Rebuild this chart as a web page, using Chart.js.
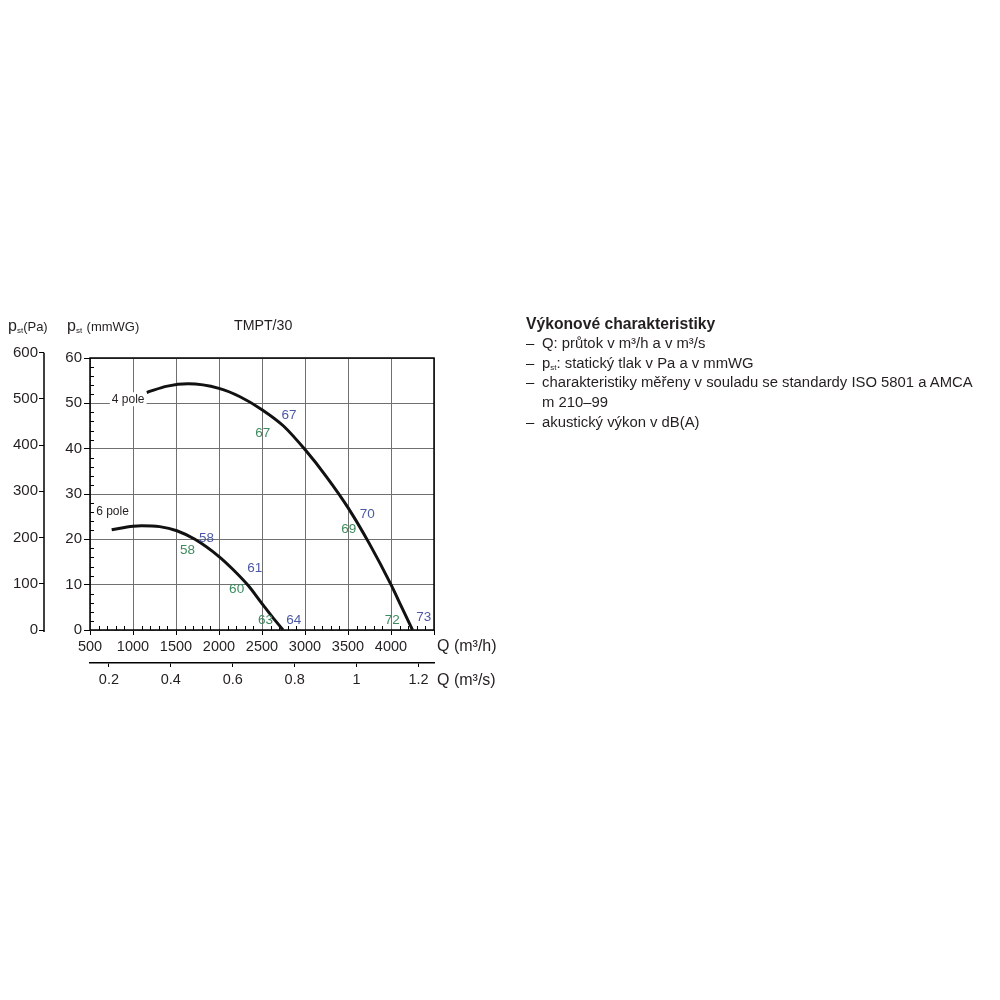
<!DOCTYPE html>
<html>
<head>
<meta charset="utf-8">
<title>TMPT/30</title>
<script src="https://cdn.jsdelivr.net/npm/chart.js@4"></script>
<style>
	body { margin: 0; background: #fff; font-family: "Liberation Sans", Arial, sans-serif; color: #231f20; }
	#wrap { position: relative; width: 1000px; height: 1000px; }
	#fan { position: absolute; left: 0; top: 0; }
	.t { position: absolute; white-space: nowrap; line-height: 1; }
	.t sub { font-size: 8px; line-height: 0; vertical-align: baseline; position: relative; top: 2px; }
	.t small { font-size: 13px; }
	.info { position: absolute; left: 526px; top: 314px; font-size: 14.85px; line-height: 19.75px; white-space: nowrap; }
	.info b { display: block; font-size: 15.7px; }
	.info .it { position: relative; padding-left: 16px; }
	.info .it span.d { position: absolute; left: 0; }
	.info sub { font-size: 8px; line-height: 0; vertical-align: baseline; position: relative; top: 2px; }
</style>
</head>
<body>
<div id="wrap">
	<canvas id="fan" width="1000" height="1000"></canvas>

	<div class="t" style="left:8px; top:318px; font-size:16px;">p<sub>st</sub><small>(Pa)</small></div>
	<div class="t" style="left:67px; top:318px; font-size:16px;">p<sub>st</sub> <small>(mmWG)</small></div>
	<div class="t" style="left:234px; top:318px; font-size:14.2px;">TMPT/30</div>
	<div class="t" style="left:437px; top:638px; font-size:16px;">Q (m³/h)</div>
	<div class="t" style="left:437px; top:672px; font-size:16px;">Q (m³/s)</div>

	<div class="info">
		<b>Výkonové charakteristiky</b>
		<div class="it"><span class="d">–</span>Q: průtok v m³/h a v m³/s</div>
		<div class="it"><span class="d">–</span>p<sub>st</sub>: statický tlak v Pa a v mmWG</div>
		<div class="it"><span class="d">–</span>charakteristiky měřeny v souladu se standardy ISO 5801 a AMCA<br>m 210–99</div>
		<div class="it"><span class="d">–</span>akustický výkon v dB(A)</div>
	</div>
</div>

<script>
// Ticks
var qTicks = [500, 1000, 1500, 2000, 2500, 3000, 3500, 4000, 4500];
var qsTicks = [0.2, 0.4, 0.6, 0.8, 1, 1.2];
var mmTicks = [0, 10, 20, 30, 40, 50, 60];
var paTicks = [0, 100, 200, 300, 400, 500, 600];

// Curves: Q (m3/h) / pst (mmWG)
var pole4Q = [1160, 1400, 1640, 2000, 2250, 2500, 2750, 3000, 3250, 3500, 3750, 4000, 4120, 4250];
var pole4P = [52.4, 53.8, 54.3, 53.3, 51.4, 48.6, 45.0, 39.8, 33.8, 27.0, 19.0, 10.0, 5.2, 0];

var pole6Q = [752, 1000, 1100, 1310, 1510, 1720, 2000, 2160, 2340, 2500, 2620, 2745];
var pole6P = [22.1, 22.9, 23.0, 22.8, 21.9, 20.0, 16.2, 13.4, 9.8, 5.8, 2.9, 0];

// Curve names
var poleNames = ['4 pole', '6 pole'];
var poleNameQ = [944, 762];
var poleNameP = [50.9, 26.1];

// Sound power dB(A), group 0 = green, 1 = blue
var dbText  = ['67', '67', '70', '69', '72', '73', '58', '58', '61', '60', '63', '64'];
var dbQ     = [2815, 2510, 3725, 3510, 4015, 4380, 1855, 1635, 2415, 2205, 2540, 2870];
var dbP     = [47.4, 43.5, 25.5, 22.2, 2.2, 2.8, 20.2, 17.6, 13.7, 9.0, 2.2, 2.2];
var dbGroup = [1, 0, 1, 0, 0, 1, 1, 0, 1, 0, 0, 1];

var dbColors = ['#3e8b5e', '#4b58a5'];
var ink = '#231f20';
var gridGrey = '#707070';

Chart.defaults.font.family = '"Liberation Sans", Arial, sans-serif';
Chart.defaults.color = ink;

function points(qs, ps) {
	return qs.map(function(q, i) { return { x: q, y: ps[i] }; });
}

function setTicks(list) {
	return function(scale) {
		scale.ticks = list.map(function(v) { return { value: v }; });
	};
}

// Frame, minor ticks, in-plot labels
var decor = {
	id: 'decor',
	beforeDatasetsDraw: function(chart) {
		var ctx = chart.ctx;
		var a = chart.chartArea;
		var x = chart.scales.x, y = chart.scales.y, pa = chart.scales.pa;

		ctx.save();
		ctx.strokeStyle = '#000';

		// minor ticks inside the plot
		ctx.lineWidth = 1;
		ctx.beginPath();
		for (var q = x.min + 100; q < x.max; q += 100) {
			if (q % 500 === 0) continue;
			var px = Math.round(x.getPixelForValue(q)) + 0.5;
			ctx.moveTo(px, a.bottom);
			ctx.lineTo(px, a.bottom - 4);
		}
		for (var p = 2; p < y.max; p += 2) {
			if (p % 10 === 0) continue;
			var py = Math.round(y.getPixelForValue(p)) + 0.5;
			ctx.moveTo(a.left, py);
			ctx.lineTo(a.left + 4, py);
		}
		ctx.stroke();

		// Pa axis line
		ctx.lineWidth = 1.5;
		ctx.beginPath();
		ctx.moveTo(pa.right, pa.getPixelForValue(600));
		ctx.lineTo(pa.right, a.bottom + 2);
		ctx.stroke();

		// frame
		ctx.lineWidth = 1.5;
		ctx.strokeRect(a.left, a.top, a.right - a.left, a.bottom - a.top);

		// curve names
		ctx.font = '12px "Liberation Sans", Arial, sans-serif';
		ctx.textAlign = 'center';
		ctx.textBaseline = 'middle';
		poleNames.forEach(function(name, i) {
			var cx = x.getPixelForValue(poleNameQ[i]);
			var cy = y.getPixelForValue(poleNameP[i]);
			var w = ctx.measureText(name).width;
			ctx.fillStyle = '#fff';
			ctx.fillRect(cx - w / 2 - 2, cy - 7, w + 4, 14);
			ctx.fillStyle = ink;
			ctx.fillText(name, cx, cy);
		});
		ctx.restore();
	},
	afterDatasetsDraw: function(chart) {
		var ctx = chart.ctx;
		var x = chart.scales.x, y = chart.scales.y;
		ctx.save();
		ctx.font = '13.5px "Liberation Sans", Arial, sans-serif';
		ctx.textAlign = 'center';
		ctx.textBaseline = 'middle';
		dbText.forEach(function(t, i) {
			ctx.fillStyle = dbColors[dbGroup[i]];
			ctx.fillText(t, x.getPixelForValue(dbQ[i]), y.getPixelForValue(dbP[i]));
		});
		ctx.restore();
	}
};

var fan = new Chart(document.getElementById('fan'), {
	type: 'line',
	data: {
		datasets: [{
			label: poleNames[0],
			data: points(pole4Q, pole4P),
			borderColor: '#111',
			borderWidth: 3,
			pointRadius: 0,
			cubicInterpolationMode: 'monotone',
			xAxisID: 'x',
			yAxisID: 'y'
		}, {
			label: poleNames[1],
			data: points(pole6Q, pole6P),
			borderColor: '#111',
			borderWidth: 3,
			pointRadius: 0,
			cubicInterpolationMode: 'monotone',
			xAxisID: 'x',
			yAxisID: 'y'
		}]
	},
	options: {
		responsive: false,
		animation: false,
		layout: { padding: { left: 0, top: 358, right: 566, bottom: 307 } },
		plugins: {
			legend: { display: false },
			tooltip: { enabled: false }
		},
		scales: {
			x: {
				type: 'linear',
				position: 'bottom',
				weight: 0,
				min: 500,
				max: 4500,
				afterBuildTicks: setTicks(qTicks),
				afterFit: function(s) { s.height = 33; },
				ticks: {
					autoSkip: false,
					maxRotation: 0,
					padding: 3,
					font: { size: 14.5 },
					callback: function(v) { return v <= 4000 ? String(v) : ''; }
				},
				grid: { color: gridGrey, lineWidth: 1, tickLength: 5, tickColor: '#000' },
				border: { display: false }
			},
			x2: {
				type: 'linear',
				position: 'bottom',
				weight: 1,
				min: 500 / 3600,
				max: 4500 / 3600,
				afterBuildTicks: setTicks(qsTicks),
				afterFit: function(s) { s.height = 30; },
				ticks: {
					autoSkip: false,
					maxRotation: 0,
					padding: 4,
					font: { size: 14.5 },
					callback: function(v) { return String(v); }
				},
				grid: { drawOnChartArea: false, tickLength: 4, tickColor: '#000' },
				border: { display: true, color: '#000', width: 1.5 }
			},
			y: {
				type: 'linear',
				position: 'left',
				weight: 0,
				min: 0,
				max: 60,
				afterBuildTicks: setTicks(mmTicks),
				afterFit: function(s) { s.width = 46; },
				ticks: {
					padding: 2,
					font: { size: 15 },
					callback: function(v) { return String(v); }
				},
				grid: { color: gridGrey, lineWidth: 1, tickLength: 6, tickColor: '#000' },
				border: { display: false }
			},
			pa: {
				type: 'linear',
				position: 'left',
				weight: 1,
				min: 0,
				max: 60 * 9.80665,
				afterBuildTicks: setTicks(paTicks),
				afterFit: function(s) { s.width = 44; },
				ticks: {
					padding: 1,
					font: { size: 15 },
					callback: function(v) { return String(v); }
				},
				grid: { drawOnChartArea: false, tickLength: 5, tickColor: '#000' },
				border: { display: false }
			}
		}
	},
	plugins: [decor]
});
</script>
</body>
</html>
